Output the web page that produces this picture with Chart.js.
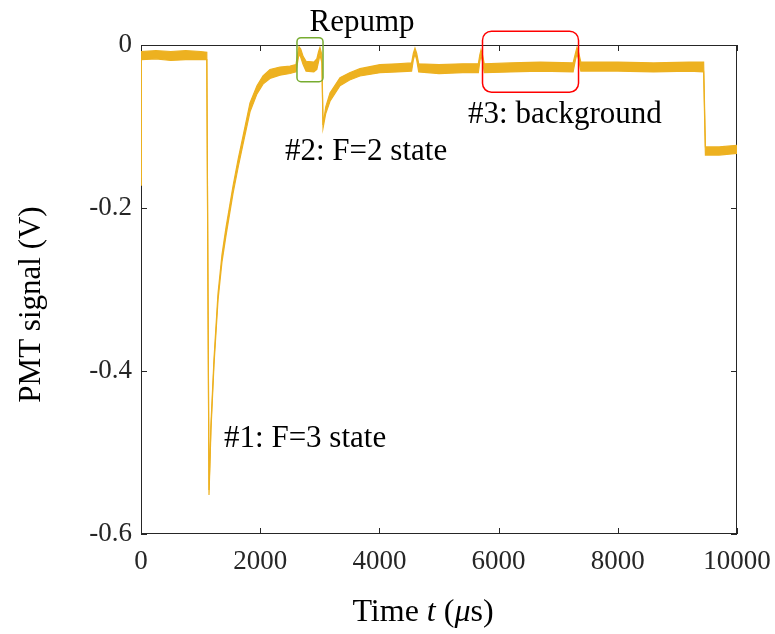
<!DOCTYPE html>
<html>
<head>
<meta charset="utf-8">
<script src="https://cdn.jsdelivr.net/npm/chart.js@4.4.1/dist/chart.umd.min.js"></script>
<style>
  html, body { margin: 0; padding: 0; background: #fff; }
  #wrap { width: 775px; height: 634px; }
</style>
</head>
<body>
<div id="wrap"><canvas id="myChart" width="775" height="634"></canvas></div>
<script>
// time axis in microseconds
const timeUs = [
  0, 6, 250, 500, 750, 1000, 1104,
  1141, 1174, 1225, 1292, 1359, 1426, 1544, 1630, 1711, 1829, 1946, 2047, 2164, 2332, 2500, 2600,
  2630, 2651, 2680, 2720, 2770, 2900, 2950, 2980, 3003, 3035,
  3054, 3100, 3171, 3339, 3500, 3674, 4010, 4300, 4540,
  4570, 4597, 4625, 4660, 5000, 5400, 5660,
  5685, 5705, 5730, 5760, 6200, 6700, 7250,
  7290, 7315, 7345, 7380, 8000, 8600, 9200, 9440,
  9470, 9700, 10000
];
// top edge of the noisy band (V)
const upperV = [
  -0.162, -0.008, -0.007, -0.008, -0.007, -0.008, -0.009,
  -0.546, -0.465, -0.385, -0.305, -0.257, -0.224, -0.173, -0.140, -0.112, -0.071, -0.050, -0.038, -0.030, -0.027, -0.026, -0.024,
  -0.010, -0.002, -0.005, -0.014, -0.020, -0.021, -0.017, -0.008, -0.003, -0.012,
  -0.098, -0.076, -0.059, -0.040, -0.034, -0.029, -0.024, -0.023, -0.022,
  -0.010, -0.004, -0.010, -0.023, -0.024, -0.023, -0.023,
  -0.012, -0.006, -0.012, -0.023, -0.022, -0.021, -0.022,
  -0.010, -0.003, -0.010, -0.021, -0.021, -0.022, -0.021, -0.021,
  -0.125, -0.125, -0.123
];
// bottom edge of the noisy band (V)
const lowerV = [
  -0.172, -0.018, -0.017, -0.019, -0.018, -0.018, -0.018,
  -0.552, -0.472, -0.392, -0.313, -0.266, -0.234, -0.182, -0.150, -0.122, -0.082, -0.060, -0.048, -0.041, -0.037, -0.035, -0.033,
  -0.020, -0.011, -0.015, -0.024, -0.032, -0.033, -0.030, -0.020, -0.012, -0.022,
  -0.102, -0.084, -0.069, -0.050, -0.043, -0.038, -0.034, -0.033, -0.032,
  -0.018, -0.011, -0.018, -0.033, -0.035, -0.034, -0.034,
  -0.020, -0.013, -0.020, -0.034, -0.033, -0.032, -0.033,
  -0.018, -0.011, -0.018, -0.032, -0.032, -0.033, -0.032, -0.033,
  -0.135, -0.135, -0.133
];
const xTicks = [0, 2000, 4000, 6000, 8000, 10000];
const yTicks = [-0.6, -0.4, -0.2, 0];

const serif = '"Liberation Serif", "Times New Roman", serif';
const traceColor = '#EDB120';
const axisColor = '#262626';

// annotation boxes and labels, in data coordinates
const boxes = [
  { x1: 2617, x2: 3054, y1: 0.009, y2: -0.045, r: 4, color: '#77AC30' },
  { x1: 5730, x2: 7341, y1: 0.017, y2: -0.058, r: 9, color: '#FF0000' }
];
const notes = [
  { text: 'Repump', x: 3708, y: 0.0172, align: 'center' },
  { text: '#2: F=2 state', x: 2416, y: -0.141, align: 'left' },
  { text: '#3: background', x: 5487, y: -0.0957, align: 'left' },
  { text: '#1: F=3 state', x: 1393, y: -0.493, align: 'left' }
];

function line(ctx, x1, y1, x2, y2) {
  ctx.beginPath();
  ctx.moveTo(x1, y1);
  ctx.lineTo(x2, y2);
  ctx.stroke();
}

const overlay = {
  id: 'overlay',
  beforeDatasetsDraw(chart) {
    const { ctx, chartArea: a, scales: { x, y } } = chart;
    ctx.save();
    // axes box, under the trace
    ctx.strokeStyle = axisColor;
    ctx.lineWidth = 1;
    ctx.strokeRect(a.left + 0.5, a.top + 0.5, a.right - a.left - 1, a.bottom - a.top - 1);
    // inward ticks on all sides
    xTicks.forEach(v => {
      const px = Math.round(x.getPixelForValue(v)) + 0.5;
      line(ctx, px, a.bottom, px, a.bottom - 6);
      line(ctx, px, a.top, px, a.top + 6);
    });
    yTicks.forEach(v => {
      const py = Math.round(y.getPixelForValue(v)) + 0.5;
      line(ctx, a.left, py, a.left + 6, py);
      line(ctx, a.right, py, a.right - 6, py);
    });
    ctx.restore();
  },
  afterDraw(chart) {
    const { ctx, chartArea: a, scales: { x, y } } = chart;
    ctx.save();
    // highlight boxes
    boxes.forEach(b => {
      const l = x.getPixelForValue(b.x1), r = x.getPixelForValue(b.x2);
      const t = y.getPixelForValue(b.y1), btm = y.getPixelForValue(b.y2);
      ctx.strokeStyle = b.color;
      ctx.lineWidth = 1.5;
      ctx.beginPath();
      ctx.roundRect(l, t, r - l, btm - t, b.r);
      ctx.stroke();
    });
    // labels
    ctx.fillStyle = '#000';
    ctx.font = '31px ' + serif;
    ctx.textBaseline = 'alphabetic';
    notes.forEach(n => {
      ctx.textAlign = n.align;
      ctx.fillText(n.text, x.getPixelForValue(n.x), y.getPixelForValue(n.y));
    });
    // x title with italic t and mu
    const parts = [
      ['Time ', false], ['t', true], [' (', false], ['\u03BC', true], ['s)', false]
    ];
    let total = 0;
    parts.forEach(p => {
      ctx.font = (p[1] ? 'italic ' : '') + '32px ' + serif;
      total += ctx.measureText(p[0]).width;
    });
    let cx = (a.left + a.right) / 2 - 16 - total / 2;
    ctx.textAlign = 'left';
    parts.forEach(p => {
      ctx.font = (p[1] ? 'italic ' : '') + '32px ' + serif;
      ctx.fillText(p[0], cx, a.bottom + 87);
      cx += ctx.measureText(p[0]).width;
    });
    // y title
    ctx.font = '31px ' + serif;
    ctx.translate(40, (a.top + a.bottom) / 2 + 15);
    ctx.rotate(-Math.PI / 2);
    ctx.textAlign = 'center';
    ctx.fillText('PMT signal (V)', 0, 0);
    ctx.restore();
  }
};

const upperPts = timeUs.map((t, i) => ({ x: t, y: upperV[i] }));
const lowerPts = timeUs.map((t, i) => ({ x: t, y: lowerV[i] }));

new Chart('myChart', {
  type: 'line',
  data: {
    datasets: [
      { data: upperPts, borderColor: traceColor, borderWidth: 1.2, pointRadius: 0, fill: false },
      { data: lowerPts, borderColor: traceColor, borderWidth: 1.2, pointRadius: 0,
        fill: '-1', backgroundColor: traceColor }
    ]
  },
  options: {
    responsive: false,
    animation: false,
    devicePixelRatio: 1,
    layout: { padding: { left: 0, top: 45, right: 38, bottom: 0 } },
    plugins: { legend: { display: false }, tooltip: { enabled: false } },
    elements: { line: { tension: 0 } },
    scales: {
      x: {
        type: 'linear', min: 0, max: 10000,
        grid: { display: false, drawTicks: false },
        border: { display: false },
        afterBuildTicks: s => { s.ticks = xTicks.map(v => ({ value: v })); },
        afterFit: s => { s.height = 100; s.paddingLeft = 0; s.paddingRight = 0; },
        ticks: {
          padding: 12, color: axisColor, maxRotation: 0, autoSkip: false,
          font: { family: serif, size: 27 },
          callback: v => String(v)
        }
      },
      y: {
        type: 'linear', min: -0.6, max: 0,
        grid: { display: false, drawTicks: false },
        border: { display: false },
        afterBuildTicks: s => { s.ticks = yTicks.map(v => ({ value: v })); },
        afterFit: s => { s.width = 141; s.paddingTop = 0; s.paddingBottom = 0; },
        ticks: {
          padding: 9, color: axisColor, autoSkip: false,
          font: { family: serif, size: 27 },
          callback: v => (v === 0 ? '0' : String(Math.round(v * 10) / 10))
        }
      }
    }
  },
  plugins: [overlay]
});
</script>
</body>
</html>
